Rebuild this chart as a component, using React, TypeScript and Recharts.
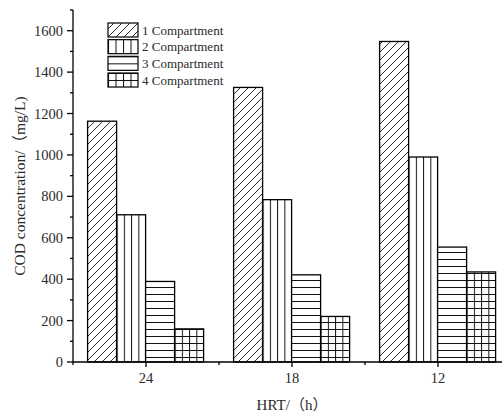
import React from 'react';
import { BarChart, Bar, XAxis, YAxis, Legend } from 'recharts';

// HRT groups and COD concentration (mg/L) per compartment
const hrtLabels = ['24', '18', '12'];
const compartment1 = [1163, 1326, 1548];
const compartment2 = [711, 784, 990];
const compartment3 = [389, 421, 555];
const compartment4 = [160, 220, 435];
const yTicks = [0, 100, 200, 300, 400, 500, 600, 700, 800, 900, 1000, 1100, 1200, 1300, 1400, 1500, 1600, 1700];

const seriesNames = ['1 Compartment', '2 Compartment', '3 Compartment', '4 Compartment'];

const data = hrtLabels.map((hrt, i) => ({
  hrt,
  c1: compartment1[i],
  c2: compartment2[i],
  c3: compartment3[i],
  c4: compartment4[i],
}));

const FONT = '"Liberation Serif", "Times New Roman", "Noto Sans CJK SC", serif';
const TEXT = '#2a2a2a';

// fills per series: list of pattern ids layered in order
const fills: Record<string, string[]> = {
  c1: ['hatch'],
  c2: ['vlines'],
  c3: ['hlines'],
  c4: ['vlines', 'hlines'],
};

const PatternDefs = ({ prefix, box }: { prefix: string; box: boolean }) => (
  <defs>
    <pattern id={`${prefix}hatch`} patternUnits="userSpaceOnUse" width={8} height={8}>
      <path d="M0,8 L8,0 M-2,2 L2,-2 M6,10 L10,6" stroke="#111" strokeWidth={0.9} />
    </pattern>
    <pattern id={`${prefix}vlines`} patternUnits="objectBoundingBox" x={0} y={0} width={0.25} height={1}>
      <line x1={0.5} y1={0} x2={0.5} y2={3000} stroke="#111" strokeWidth={1} />
    </pattern>
    {box ? (
      <pattern id={`${prefix}hlines`} patternUnits="objectBoundingBox" x={0} y={0} width={1} height={0.5}>
        <line x1={0} y1={0.5} x2={3000} y2={0.5} stroke="#111" strokeWidth={1} />
      </pattern>
    ) : (
      <pattern id={`${prefix}hlines`} patternUnits="userSpaceOnUse" width={10} height={7}>
        <line x1={0} y1={0.5} x2={10} y2={0.5} stroke="#111" strokeWidth={1} />
      </pattern>
    )}
  </defs>
);

const makeShape = (key: string) => (props: any) => {
  const { x, y, width, height } = props;
  if (!(height > 0)) return <g />;
  return (
    <g>
      <rect x={x} y={y} width={width} height={height} fill="#fff" />
      {fills[key].map((p) => (
        <rect key={p} x={x} y={y} width={width} height={height} fill={`url(#bar-${p})`} />
      ))}
      <rect x={x} y={y} width={width} height={height} fill="none" stroke="#000" strokeWidth={1.3} />
    </g>
  );
};

const YTick = (props: any) => {
  const { x, y, payload } = props;
  const major = payload.value % 200 === 0 && payload.value <= 1600;
  return (
    <g>
      <line x1={x - (major ? 6 : 3)} y1={y} x2={x} y2={y} stroke="#000" strokeWidth={1.3} />
      {major && (
        <text x={x - 10} y={y + 5} textAnchor="end" fontSize={14.5} fontFamily={FONT} fill={TEXT}>
          {payload.value}
        </text>
      )}
    </g>
  );
};

const XTick = (props: any) => {
  const { x, y, payload } = props;
  const half = typeof payload.offset === 'number' && payload.offset > 0 ? payload.offset : 73;
  return (
    <g>
      <line x1={x} y1={y} x2={x} y2={y + 5} stroke="#000" strokeWidth={1.3} />
      <line x1={x - half} y1={y} x2={x - half} y2={y + 3} stroke="#000" strokeWidth={1.3} />
      <text x={x} y={y + 21} textAnchor="middle" fontSize={14.5} fontFamily={FONT} fill={TEXT}>
        {payload.value}
      </text>
    </g>
  );
};

const YTitle = (props: any) => {
  const { viewBox } = props;
  const cx = viewBox.x + 24.5;
  const cy = viewBox.y + viewBox.height / 2;
  return (
    <text
      x={cx}
      y={cy}
      transform={`rotate(-90, ${cx}, ${cy})`}
      textAnchor="middle"
      fontSize={15.5}
      fontFamily={FONT}
      fill={TEXT}
    >
      COD concentration/（mg/L)
    </text>
  );
};

const XTitle = (props: any) => {
  const { viewBox } = props;
  const cx = viewBox.x + viewBox.width / 2;
  return (
    <text x={cx} y={410} textAnchor="middle" fontSize={15} fontFamily={FONT} fill={TEXT}>
      HRT/（h）
    </text>
  );
};

const LegendBox = () => {
  const keys = ['c1', 'c2', 'c3', 'c4'];
  return (
    <svg width={130} height={70} style={{ display: 'block' }}>
      <PatternDefs prefix="lg-" box />
      {keys.map((k, i) => {
        const top = 1 + i * 16.67;
        return (
          <g key={k}>
            <rect x={1} y={top} width={30} height={14} fill="#fff" />
            {fills[k].map((p) => (
              <rect key={p} x={1} y={top} width={30} height={14} fill={`url(#lg-${p})`} />
            ))}
            <rect x={1} y={top} width={30} height={14} fill="none" stroke="#000" strokeWidth={1.2} />
            <text x={35} y={top + 11.5} fontSize={13} fontFamily={FONT} fill={TEXT}>
              {seriesNames[i]}
            </text>
          </g>
        );
      })}
    </svg>
  );
};

export default function App() {
  return (
    <div style={{ position: 'absolute', left: 0, top: 0, width: 502, height: 419, overflow: 'hidden', background: '#fff' }}>
      <BarChart
        width={520}
        height={419}
        data={data}
        margin={{ top: 10, right: 9, bottom: 7, left: 0 }}
        barCategoryGap="10%"
        barGap={0}
      >
        <svg>
          <PatternDefs prefix="bar-" box={false} />
        </svg>
        <XAxis
          dataKey="hrt"
          height={50}
          tickSize={0}
          tickMargin={0}
          interval={0}
          axisLine={{ stroke: '#000', strokeWidth: 1.3 }}
          tickLine={false}
          tick={<XTick />}
          label={<XTitle />}
        />
        <YAxis
          width={73}
          domain={[0, 1700]}
          ticks={yTicks}
          interval={0}
          tickSize={0}
          tickMargin={0}
          axisLine={{ stroke: '#000', strokeWidth: 1.3 }}
          tickLine={false}
          tick={<YTick />}
          label={<YTitle />}
        />
        <Legend
          layout="vertical"
          align="center"
          verticalAlign="middle"
          wrapperStyle={{ left: 107, top: 22, width: 'auto', lineHeight: 'normal' }}
          content={<LegendBox />}
        />
        {(['c1', 'c2', 'c3', 'c4'] as const).map((k, i) => (
          <Bar key={k} dataKey={k} name={seriesNames[i]} isAnimationActive={false} shape={makeShape(k)} />
        ))}
      </BarChart>
    </div>
  );
}
